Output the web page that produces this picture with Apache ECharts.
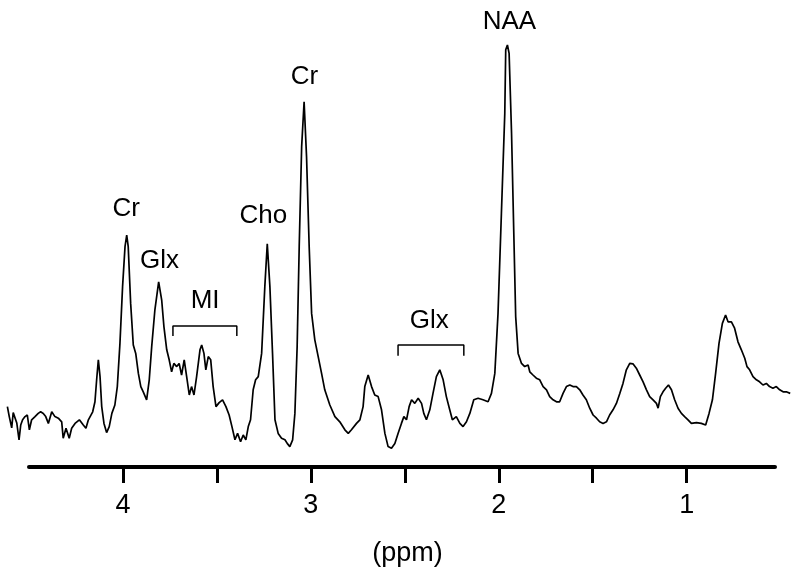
<!DOCTYPE html>
<html>
<head>
<meta charset="utf-8">
<script src="https://cdn.jsdelivr.net/npm/echarts@6/dist/echarts.min.js"></script>
<style>html,body{margin:0;padding:0;background:#fff}#c{width:800px;height:572px}</style>
</head>
<body>
<div id="c"></div>
<script>
// Chemical shift (ppm) of each traced spectrum point
var spectrumPpm = [
4.615,4.605,4.592,4.584,4.574,4.565,4.553,4.544,4.534,4.521,4.509,4.498,4.486,4.468,4.451,4.438,4.424,4.411,4.397,4.379,
4.362,4.344,4.326,4.318,4.303,4.286,4.273,4.255,4.232,4.211,4.197,4.184,4.161,4.149,4.140,4.131,4.122,4.113,4.101,4.087,
4.073,4.059,4.043,4.030,4.016,4.002,3.989,3.980,3.972,3.959,3.945,3.932,3.918,3.905,3.892,3.874,3.860,3.847,3.830,3.810,
3.794,3.782,3.767,3.754,3.741,3.729,3.714,3.701,3.688,3.674,3.661,3.647,3.635,3.622,3.608,3.590,3.581,3.569,3.559,3.546,
3.533,3.520,3.505,3.488,3.470,3.452,3.435,3.420,3.404,3.390,3.374,3.360,3.346,3.333,3.321,3.307,3.294,3.280,3.262,3.245,
3.232,3.218,3.204,3.191,3.174,3.156,3.138,3.126,3.112,3.097,3.085,3.073,3.062,3.049,3.036,3.023,3.009,2.996,2.979,2.961,
2.943,2.926,2.899,2.872,2.846,2.819,2.801,2.784,2.757,2.739,2.722,2.713,2.695,2.677,2.660,2.642,2.624,2.606,2.589,2.571,
2.553,2.536,2.518,2.505,2.491,2.477,2.464,2.447,2.429,2.411,2.399,2.385,2.367,2.350,2.332,2.314,2.296,2.279,2.261,2.247,
2.226,2.207,2.190,2.172,2.154,2.133,2.110,2.084,2.057,2.039,2.021,2.004,1.986,1.968,1.963,1.954,1.945,1.932,1.920,1.910,
1.897,1.879,1.862,1.844,1.835,1.818,1.800,1.782,1.764,1.746,1.729,1.711,1.693,1.676,1.658,1.640,1.622,1.605,1.587,1.569,
1.552,1.534,1.516,1.498,1.480,1.463,1.445,1.427,1.410,1.392,1.374,1.356,1.339,1.321,1.303,1.286,1.268,1.250,1.232,1.214,
1.197,1.179,1.161,1.152,1.140,1.126,1.112,1.097,1.081,1.064,1.046,1.028,1.011,0.993,0.975,0.948,0.922,0.899,0.881,0.863,
0.846,0.828,0.810,0.793,0.780,0.762,0.745,0.727,0.709,0.691,0.679,0.665,0.647,0.629,0.612,0.594,0.576,0.559,0.541,0.523,
0.505,0.487,0.470,0.449
];
// Signal intensity (arbitrary units) at each point
var spectrumIntensity = [
15.1,12.6,9.8,13.6,13.8,11.0,6.8,10.5,11.8,12.6,13.0,9.3,11.8,12.6,13.4,13.8,13.4,12.6,10.9,13.8,
12.6,12.2,11.3,7.2,9.7,7.2,9.7,10.9,11.8,10.5,9.7,11.8,13.8,16.3,21.8,26.8,22.6,15.1,10.9,8.6,
10.1,13.4,15.5,20.1,30.9,45.1,55.1,58.0,55.1,40.9,30.5,28.4,23.4,20.1,18.8,16.8,21.8,30.1,39.3,46.3,
41.8,35.1,29.3,26.8,23.8,25.9,25.1,25.9,23.0,26.8,22.6,18.0,20.1,18.0,22.6,29.3,30.5,28.4,24.3,27.6,
26.8,20.1,15.1,16.1,16.8,15.1,13.0,10.1,6.8,8.4,6.3,8.0,6.8,10.1,11.8,19.3,21.8,22.6,28.4,45.1,
55.8,45.1,28.4,11.8,8.4,7.2,6.8,5.9,5.1,6.8,13.4,30.1,55.1,80.1,91.3,77.6,55.1,38.4,31.8,27.6,
23.4,19.3,15.5,12.6,11.3,9.3,8.4,9.3,10.9,11.8,15.1,20.1,23.0,20.1,18.0,17.6,14.3,8.4,5.1,4.7,
5.9,8.4,10.9,12.6,11.8,15.1,16.8,15.9,17.2,15.9,13.4,11.8,14.3,18.4,22.6,24.3,21.8,17.6,14.3,11.8,
12.6,10.9,10.1,11.3,13.4,16.8,17.2,16.8,16.3,18.4,23.4,38.4,63.4,88.4,104.3,105.5,103.4,83.4,58.4,37.6,
28.4,25.9,25.1,25.5,23.8,23.0,22.2,21.8,20.1,19.3,17.6,16.8,16.3,16.3,18.4,20.1,20.5,20.1,20.1,19.3,
18.0,16.8,14.7,13.0,12.2,11.3,10.9,11.3,13.0,14.3,15.9,18.4,20.9,24.3,25.9,25.8,24.7,23.0,21.3,19.3,
17.6,16.8,15.9,14.7,17.6,18.8,19.7,20.5,19.3,16.8,14.7,13.4,12.6,11.8,10.9,11.1,10.9,10.5,13.4,16.8,
23.4,30.9,35.9,38.0,36.3,36.3,34.7,31.3,29.3,27.2,25.1,24.3,22.6,21.8,21.3,20.5,20.9,20.1,19.7,20.1,
19.3,18.8,18.8,18.4
];
// Peak annotations
var peakNames = ['NAA','Cr','Cho','Cr','Glx','MI','Glx'];
var peakLabelPpm = [1.941,3.032,3.250,3.980,3.803,3.560,2.367];
var peakLabelHeight = [111.1,97.3,62.6,64.5,51.5,41.3,36.3];
// Bracketed ranges: [ppm start, ppm end, bar height, leg bottom]
var bracketMI = [3.734,3.394,35.25,32.75];
var bracketGlx = [2.536,2.186,30.5,27.8];
// Axis ticks
var majorTicks = [1,2,3,4];
var minorTicks = [1,1.5,2,2.5,3,3.5,4];

var spectrum = spectrumPpm.map(function(p,i){return [p, spectrumIntensity[i]];});
var labels = peakNames.map(function(n,i){return {name:n, value:[peakLabelPpm[i], peakLabelHeight[i]]};});
function bracket(b){return [[b[0],b[3]],[b[0],b[2]],[b[1],b[2]],[b[1],b[3]]];}

// pixel scale shared by both grids: axis 4.5..0.53 spans x 29..775
var pxPerPpm = 746/3.97;
var dataMax = 4.62, dataMin = 0.44;
var g0Left = 29 - (dataMax-4.5)*pxPerPpm;
var g0Right = 800 - (29 + (4.5-dataMin)*pxPerPpm);

var chart = echarts.init(document.getElementById('c'), null, {renderer:'canvas'});
chart.setOption({
  animation:false,
  backgroundColor:'#fff',
  grid:[
    {left:g0Left,right:g0Right,top:27,bottom:105},
    {left:29,right:25,top:27,bottom:105}
  ],
  xAxis:[
    {gridIndex:0,type:'value',inverse:true,min:dataMin,max:dataMax,show:false,splitLine:{show:false}},
    {gridIndex:1,type:'value',inverse:true,min:0.53,max:4.5,
     name:'(ppm)', nameLocation:'middle', nameGap:73,
     nameTextStyle:{fontFamily:'Liberation Sans',fontSize:27,color:'#000',padding:[0,0,0,11]},
     axisLine:{show:true,onZero:false,lineStyle:{color:'#000',width:4}},
     axisTick:{show:true,length:16,lineStyle:{color:'#000',width:3},customValues:minorTicks},
     axisLabel:{show:true,margin:25,fontFamily:'Liberation Sans',fontSize:27,color:'#000',customValues:majorTicks},
     splitLine:{show:false}}
  ],
  yAxis:[
    {gridIndex:0,type:'value',min:0,max:110,show:false,splitLine:{show:false}},
    {gridIndex:1,type:'value',min:0,max:110,show:false,splitLine:{show:false}}
  ],
  series:[
    {type:'line',xAxisIndex:0,yAxisIndex:0,data:spectrum,clip:false,showSymbol:false,symbol:'none',
     lineStyle:{color:'#000',width:1.7},z:3},
    {type:'line',xAxisIndex:0,yAxisIndex:0,data:bracket(bracketMI),clip:false,symbol:'none',lineStyle:{color:'#000',width:1.5}},
    {type:'line',xAxisIndex:0,yAxisIndex:0,data:bracket(bracketGlx),clip:false,symbol:'none',lineStyle:{color:'#000',width:1.5}},
    {type:'scatter',xAxisIndex:0,yAxisIndex:0,data:labels,clip:false,symbolSize:1,
     itemStyle:{color:'rgba(0,0,0,0)',opacity:1},
     label:{show:true,position:[0,0],align:'center',verticalAlign:'middle',formatter:'{b}',
       fontFamily:'Liberation Sans',fontSize:26,color:'#000',textBorderWidth:0}}
  ]
});
</script>
</body>
</html>
